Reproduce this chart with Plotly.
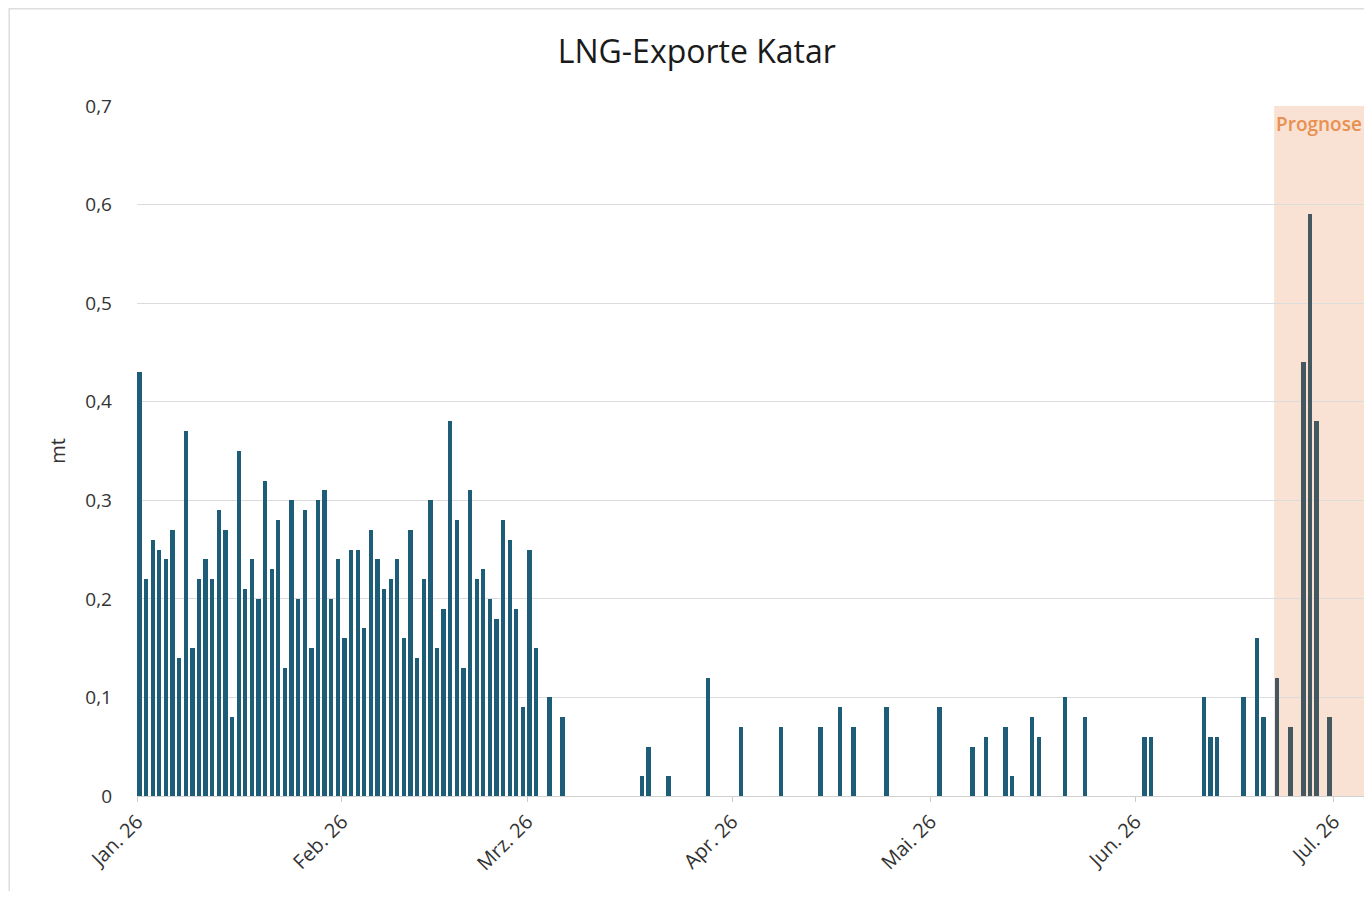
import pandas as pd
import plotly.graph_objects as go

# Observed daily LNG exports (mt)
obs_dates = pd.date_range("2026-01-01", "2026-03-02").strftime("%Y-%m-%d").tolist() + [
    "2026-03-04", "2026-03-06", "2026-03-18", "2026-03-19", "2026-03-22", "2026-03-28",
    "2026-04-02", "2026-04-08", "2026-04-14", "2026-04-17", "2026-04-19", "2026-04-24",
    "2026-05-02", "2026-05-07", "2026-05-09", "2026-05-12", "2026-05-13", "2026-05-16",
    "2026-05-17", "2026-05-21", "2026-05-24",
    "2026-06-02", "2026-06-03", "2026-06-11", "2026-06-12", "2026-06-13", "2026-06-17",
    "2026-06-19", "2026-06-20",
]
obs_values = [
    # Jan
    0.43, 0.22, 0.26, 0.25, 0.24, 0.27, 0.14, 0.37, 0.15, 0.22, 0.24, 0.22, 0.29, 0.27, 0.08, 0.35,
    0.21, 0.24, 0.20, 0.32, 0.23, 0.28, 0.13, 0.30, 0.20, 0.29, 0.15, 0.30, 0.31, 0.20, 0.24,
    # Feb
    0.16, 0.25, 0.25, 0.17, 0.27, 0.24, 0.21, 0.22, 0.24, 0.16, 0.27, 0.14, 0.22, 0.30,
    0.15, 0.19, 0.38, 0.28, 0.13, 0.31, 0.22, 0.23, 0.20, 0.18, 0.28, 0.26, 0.19, 0.09,
    # Mar
    0.25, 0.15, 0.10, 0.08, 0.02, 0.05, 0.02, 0.12,
    # Apr
    0.07, 0.07, 0.07, 0.09, 0.07, 0.09,
    # May
    0.09, 0.05, 0.06, 0.07, 0.02, 0.08, 0.06, 0.10, 0.08,
    # Jun
    0.06, 0.06, 0.10, 0.06, 0.06, 0.10, 0.16, 0.08,
]

# Forecast (Prognose)
fc_dates = ["2026-06-22", "2026-06-24", "2026-06-26", "2026-06-27", "2026-06-28", "2026-06-30"]
fc_values = [0.12, 0.07, 0.44, 0.59, 0.38, 0.08]
fc_start = "2026-06-22"

month_ticks = ["2026-01-01", "2026-02-01", "2026-03-01", "2026-04-01", "2026-05-01", "2026-06-01", "2026-07-01"]
month_labels = ["Jan. 26", "Feb. 26", "Mrz. 26", "Apr. 26", "Mai. 26", "Jun. 26", "Jul. 26"]
y_ticks = [0, 0.1, 0.2, 0.3, 0.4, 0.5, 0.6, 0.7]
y_labels = ["0", "0,1", "0,2", "0,3", "0,4", "0,5", "0,6", "0,7"]

DAY_MS = 86400000
FONT = "Open Sans, Arial, sans-serif"

fig = go.Figure()
fig.add_trace(go.Bar(
    x=obs_dates, y=obs_values, marker_color="#1e5d78", marker_line_width=0,
    width=0.65 * DAY_MS, offset=0.05 * DAY_MS, name="Exporte",
))
fig.add_trace(go.Bar(
    x=fc_dates, y=fc_values, marker_color="#44585f", marker_line_width=0,
    width=0.72 * DAY_MS, offset=0.05 * DAY_MS, name="Prognose",
))

# forecast shading
fig.add_shape(type="rect", xref="x", yref="paper", x0=fc_start, x1="2026-07-10",
              y0=0, y1=1, fillcolor="#f9e1d3", line_width=0, layer="below")
fig.add_annotation(x=1.0, xref="paper", y=0.7, yref="y", text="Prognose",
                   showarrow=False, xanchor="right", yanchor="top", yshift=-3, xshift=-8,
                   font=dict(family=FONT, size=19, color="#e8904f", weight=600))

# outer frame
fig.add_shape(type="rect", xref="paper", yref="paper", x0=-0.1035, x1=1.2,
              y0=-0.3, y1=1.141, line=dict(color="#dddddd", width=1.5),
              fillcolor="rgba(0,0,0,0)", layer="below")

fig.update_layout(
    width=1364, height=883,
    title=dict(text="LNG-Exporte Katar", x=0.505, xanchor="center", y=0.95, yanchor="middle",
               font=dict(family=FONT, size=32, color="#1a1a1a")),
    font=dict(family=FONT, size=19, color="#333333"),
    paper_bgcolor="white", plot_bgcolor="white",
    margin=dict(l=129, r=0, t=98, b=95),
    showlegend=False, bargap=0,
    xaxis=dict(
        type="date", range=["2026-01-01", "2026-07-06 19:00"],
        tickvals=month_ticks, ticktext=month_labels, tickangle=-45,
        ticks="outside", ticklen=5, tickcolor="#cccccc",
        showgrid=False, showline=True, linecolor="#d0d0d0", linewidth=1,
        tickfont=dict(size=20, color="#333333"),
    ),
    yaxis=dict(
        range=[0, 0.7], tickvals=y_ticks, ticktext=y_labels,
        showgrid=True, gridcolor="#dcdcdc", gridwidth=1, zeroline=False,
        ticklabelstandoff=24, tickfont=dict(size=19, color="#333333"),
        title=dict(text="mt", standoff=14, font=dict(size=20, color="#333333")),
    ),
)

fig.write_html("out.html")
